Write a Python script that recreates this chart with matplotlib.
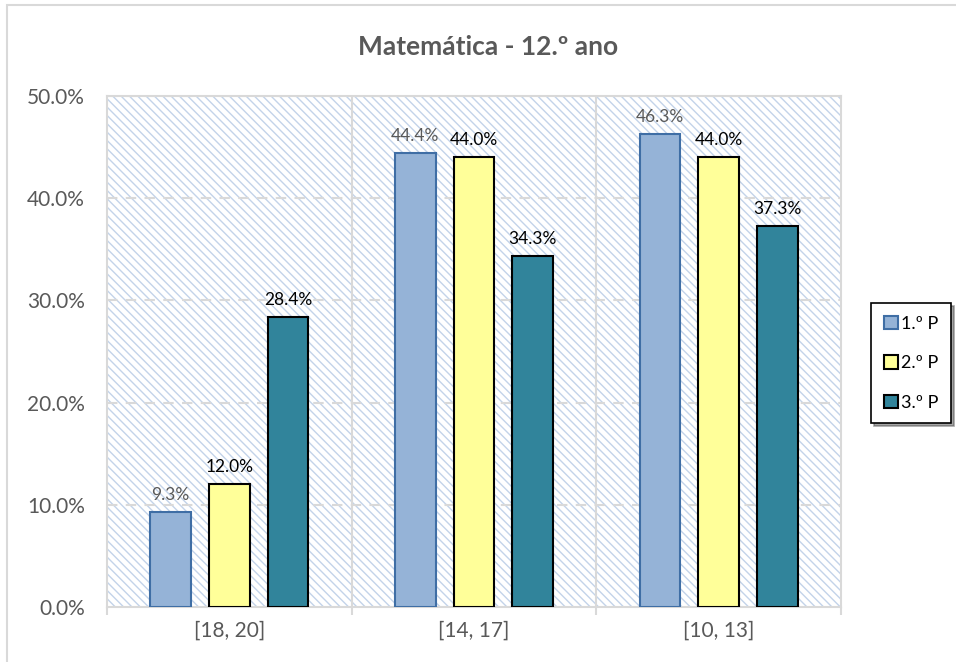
import matplotlib.pyplot as plt
import numpy as np
from matplotlib.patches import Rectangle

# notas por intervalo, em percentagem
categorias = ["[18, 20]", "[14, 17]", "[10, 13]"]
periodos = ["1.º P", "2.º P", "3.º P"]
p1 = [9.3, 44.4, 46.3]
p2 = [12.0, 44.0, 44.0]
p3 = [28.4, 34.3, 37.3]

cores = ["#95b3d7", "#ffff99", "#31849b"]
bordas = ["#3f6ea5", "#000000", "#000000"]
cor_rotulo = ["#595959", "#000000", "#000000"]

plt.rcParams['font.family'] = ['Lato', 'DejaVu Sans']
plt.rcParams['hatch.linewidth'] = 1.0

fig = plt.figure(figsize=(9.56, 6.62), dpi=100)
# moldura do gráfico
fig.patches.append(Rectangle((7 / 956, -0.1), 1.2, 1 - 5 / 662 + 0.1, transform=fig.transFigure,
                             fill=False, edgecolor="#d9d9d9", linewidth=1.5, zorder=0))

ax = fig.add_axes([107 / 956, 55 / 662, 734 / 956, 511 / 662])

# fundo tracejado da área do gráfico
ax.add_patch(Rectangle((0, 0), 1, 1, transform=ax.transAxes, facecolor="white",
                       edgecolor="#c3d3e9", hatch="\\\\\\\\", linewidth=0, zorder=0))

x = np.arange(len(categorias))
w = 0.167
passo = 0.24
for i, (vals, nome) in enumerate(zip([p1, p2, p3], periodos)):
    pos = x + (i - 1) * passo
    ax.bar(pos, vals, w, color=cores[i], edgecolor=bordas[i], linewidth=1.5,
           label=nome, zorder=3)
    for xp, v in zip(pos, vals):
        ax.text(xp, v + 0.9, f"{v:.1f}%", ha="center", va="bottom",
                fontsize=12.5, color=cor_rotulo[i], zorder=4)

ax.set_xlim(-0.5, 2.5)
ax.set_ylim(0, 50)
ax.set_yticks(np.arange(0, 51, 10))
ax.set_yticklabels([f"{t:.1f}%" for t in np.arange(0, 51, 10)])
ax.set_xticks(x)
ax.set_xticklabels(categorias)
ax.set_xticks([-0.5, 0.5, 1.5, 2.5], minor=True)
ax.tick_params(axis="both", which="major", length=0, labelsize=15, colors="#595959")
ax.tick_params(axis="y", which="major", pad=16)
ax.tick_params(axis="x", which="major", pad=10)
ax.tick_params(axis="x", which="minor", length=6, color="#d9d9d9", width=1.5)

# linhas de grelha
for t in np.arange(10, 51, 10):
    ax.axhline(t, color="#d9d9d9", linestyle=(0, (5, 4)), linewidth=1.5, zorder=1)
for s in [0.5, 1.5]:
    ax.axvline(s, color="#d9d9d9", linewidth=1.5, zorder=1)

for sp in ax.spines.values():
    sp.set_color("#d9d9d9")
    sp.set_linewidth(1.5)

fig.text(488 / 956, 1 - 47 / 662, "Matemática - 12.º ano", ha="center", va="center",
         fontsize=19, fontweight="bold", color="#595959")

leg = fig.legend(loc="upper left", bbox_to_anchor=(871 / 956, 1 - 303 / 662),
                 frameon=True, shadow=True, fancybox=False, fontsize=13,
                 handlelength=0.78, handleheight=0.78, handletextpad=0.2,
                 labelspacing=1.3, borderpad=0.7, borderaxespad=0)
leg.get_frame().set_edgecolor("black")
leg.get_frame().set_linewidth(1.2)

fig.savefig("out.png", dpi=100)
